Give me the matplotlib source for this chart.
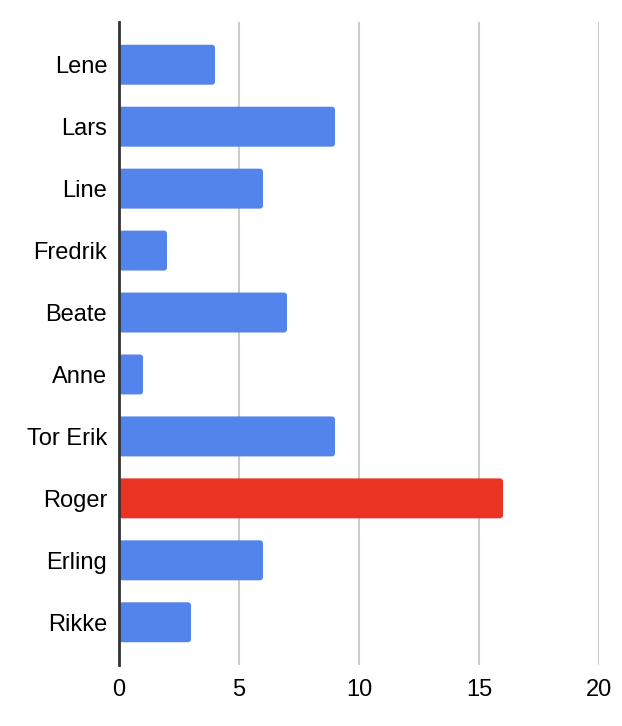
import matplotlib
matplotlib.use("Agg")
import matplotlib.pyplot as plt
from matplotlib.patches import FancyBboxPatch

plt.rcParams['font.family'] = ['Liberation Sans', 'DejaVu Sans']

# data
names = ["Lene", "Lars", "Line", "Fredrik", "Beate", "Anne", "Tor Erik", "Roger", "Erling", "Rikke"]
values = [4, 9, 6, 2, 7, 1, 9, 16, 6, 3]
highlight = "Roger"
xticks = [0, 5, 10, 15, 20]

blue = "#5384EC"
red = "#EA3323"

fig = plt.figure(figsize=(6.22, 7.26), dpi=100)
ax = fig.add_axes([119/622, 61/726, 480/622, 643/726])

ypos = list(range(len(names)))
colors = [red if n == highlight else blue for n in names]
bars = ax.barh(ypos, values, height=0.645, color=colors, zorder=2)

# round the right end of each bar a little (Sheets style)
px_x = 480 / 20
px_y = 643 / 10.38
r = 3 / px_x
for b in bars:
    b.set_visible(False)
    p = FancyBboxPatch((b.get_x(), b.get_y()), b.get_width(), b.get_height(),
                       boxstyle=f"round,pad=0,rounding_size={r}",
                       mutation_aspect=px_x / px_y,
                       facecolor=b.get_facecolor(), edgecolor="none", zorder=2)
    ax.add_patch(p)

ax.set_xlim(0, 20)
ax.set_ylim(9.69, -0.69)
ax.set_xticks(xticks)
ax.set_yticks(ypos)
ax.set_yticklabels(names)
ax.tick_params(axis='both', length=0, labelsize=17, colors="black")
ax.tick_params(axis='y', pad=8.5)
ax.tick_params(axis='x', pad=10)

ax.grid(axis='x', color="#CCCCCC", linewidth=1.5, zorder=0)
for s in ["top", "right", "bottom"]:
    ax.spines[s].set_visible(False)
ax.spines["left"].set_color("#333333")
ax.spines["left"].set_linewidth(2)
ax.spines["left"].set_zorder(3)

fig.savefig("out.png", dpi=100)
